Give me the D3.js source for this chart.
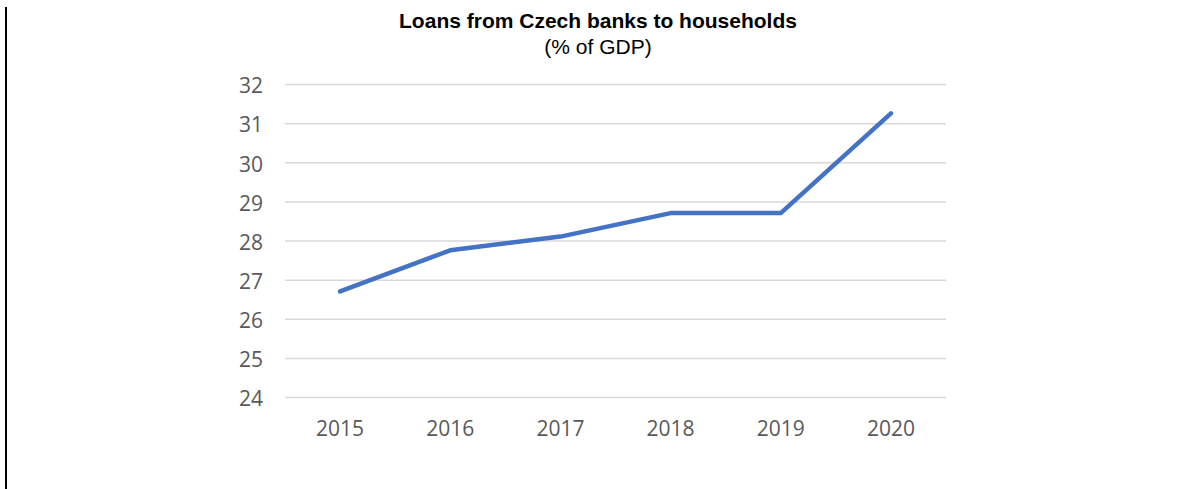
<!DOCTYPE html>
<html>
<head>
<meta charset="utf-8">
<script src="https://cdn.jsdelivr.net/npm/d3@7"></script>
<style>
  html, body { margin: 0; padding: 0; background: #fff; }
  svg { display: block; }
</style>
</head>
<body>
<svg id="chart" width="1188" height="489"></svg>
<script>
// Household loans from Czech banks, % of GDP
const years = ["2015", "2016", "2017", "2018", "2019", "2020"];
const loansPctGdp = [26.7, 27.75, 28.1, 28.7, 28.7, 31.25];
const yTicks = [24, 25, 26, 27, 28, 29, 30, 31, 32];

const svg = d3.select("#chart");
const W = 1188, H = 489;
const plot = { left: 285, right: 946, top: 84, bottom: 397 };

// frame edge on the left
svg.append("line")
  .attr("x1", 6).attr("x2", 6)
  .attr("y1", 7).attr("y2", H)
  .attr("stroke", "#000").attr("stroke-width", 2);

// titles
const titleFont = "'Liberation Sans', Arial, sans-serif";
svg.append("text")
  .attr("x", 598).attr("y", 28)
  .attr("text-anchor", "middle")
  .style("font-family", titleFont)
  .style("font-weight", "bold")
  .style("font-size", "21px")
  .attr("fill", "#000")
  .text("Loans from Czech banks to households");
svg.append("text")
  .attr("x", 598).attr("y", 54)
  .attr("text-anchor", "middle")
  .style("font-family", titleFont)
  .style("font-size", "21px")
  .attr("fill", "#000")
  .text("(% of GDP)");

const x = d3.scaleBand().domain(years).range([plot.left, plot.right]);
const y = d3.scaleLinear().domain([24, 32]).range([plot.bottom, plot.top]);

const tickFont = "'Open Sans', sans-serif";

// y axis: gridlines with labels
const yAxis = svg.append("g")
  .attr("transform", `translate(${plot.left},0)`)
  .call(d3.axisLeft(y).tickValues(yTicks).tickSize(-(plot.right - plot.left)).tickPadding(22).tickFormat(d3.format("d")));
yAxis.select(".domain").remove();
yAxis.selectAll(".tick line").attr("stroke", "#d9d9d9").attr("stroke-width", 1.5);
yAxis.selectAll(".tick text")
  .attr("fill", "#595959")
  .attr("dy", "0.42em")
  .style("font-family", tickFont)
  .style("font-size", "21px");

// x axis labels
const xAxis = svg.append("g")
  .attr("transform", `translate(0,${plot.bottom})`)
  .call(d3.axisBottom(x).tickSize(0).tickPadding(0));
xAxis.select(".domain").remove();
xAxis.selectAll(".tick text")
  .attr("fill", "#595959")
  .attr("y", 39)
  .attr("dy", 0)
  .style("font-family", tickFont)
  .style("font-size", "21px");

// data line
const line = d3.line()
  .x((d, i) => x(years[i]) + x.bandwidth() / 2)
  .y(d => y(d));
svg.append("path")
  .datum(loansPctGdp)
  .attr("d", line)
  .attr("fill", "none")
  .attr("stroke", "#4472C4")
  .attr("stroke-width", 4.5)
  .attr("stroke-linecap", "round")
  .attr("stroke-linejoin", "round");
</script>
</body>
</html>
